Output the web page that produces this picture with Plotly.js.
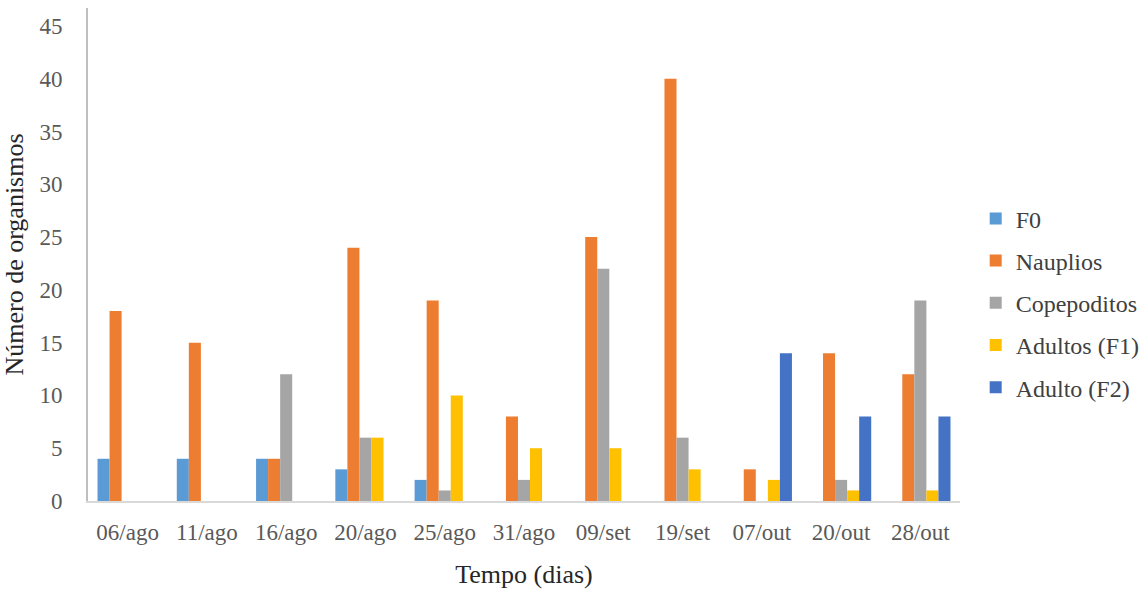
<!DOCTYPE html>
<html><head><meta charset="utf-8">
<script src="https://cdn.plot.ly/plotly-3.0.1.min.js"></script>
<style>html,body{margin:0;padding:0;background:#fff}#chart{width:1148px;height:589px}</style>
</head><body><div id="chart"></div>
<script>
var categories = ["06/ago","11/ago","16/ago","20/ago","25/ago","31/ago","09/set","19/set","07/out","20/out","28/out"];
var seriesNames = ["F0","Nauplios","Copepoditos","Adultos (F1)","Adulto (F2)"];
var f0 = [4,4,4,3,2,0,0,0,0,0,0];
var nauplios = [18,15,4,24,19,8,25,40,3,14,12];
var copepoditos = [0,0,12,6,1,2,22,6,0,2,19];
var adultosF1 = [0,0,0,6,10,5,5,3,2,1,1];
var adultoF2 = [0,0,0,0,0,0,0,0,14,8,8];
var colors = ["#5B9BD5","#ED7D31","#A5A5A5","#FFC000","#4472C4"];
var allSeries = [f0,nauplios,copepoditos,adultosF1,adultoF2];
var font = "Liberation Serif";
var traces = allSeries.map(function(v,i){
  return {type:"bar", name:seriesNames[i], x:categories, y:v, legendgroup:"g"+i,
    marker:{color:colors[i], line:{width:0}}, hoverinfo:"x+y+name"};
});
var layout = {
  width:1148, height:589,
  margin:{l:88, r:188, t:8, b:88, autoexpand:false},
  paper_bgcolor:"#fff", plot_bgcolor:"#fff",
  barmode:"group", bargap:0.24, bargroupgap:0,
  font:{family:font, size:23, color:"#595959"},
  xaxis:{type:"category", showgrid:false, showline:true, linecolor:"#D9D9D9", linewidth:2,
    ticks:"", ticklabelstandoff:9, tickfont:{family:font,size:23,color:"#595959"},
    title:{text:"Tempo (dias)", font:{family:font,size:26,color:"#262626"}, standoff:22}},
  yaxis:{range:[0,46.7], dtick:5, tick0:0, showgrid:false, zeroline:false, showline:true,
    linecolor:"#BFBFBF", linewidth:2, ticks:"", ticklabelstandoff:19,
    tickfont:{family:font,size:23,color:"#595959"},
    title:{text:"Número de organismos", font:{family:font,size:26,color:"#262626"}, standoff:8}},
  legend:{x:1.018, xanchor:"left", y:0.402, yanchor:"middle", tracegroupgap:8,
    font:{family:font,size:24,color:"#404040"}, bgcolor:"rgba(0,0,0,0)"},
  showlegend:true
};
Plotly.newPlot("chart", traces, layout, {displayModeBar:false, staticPlot:true});
</script></body></html>
